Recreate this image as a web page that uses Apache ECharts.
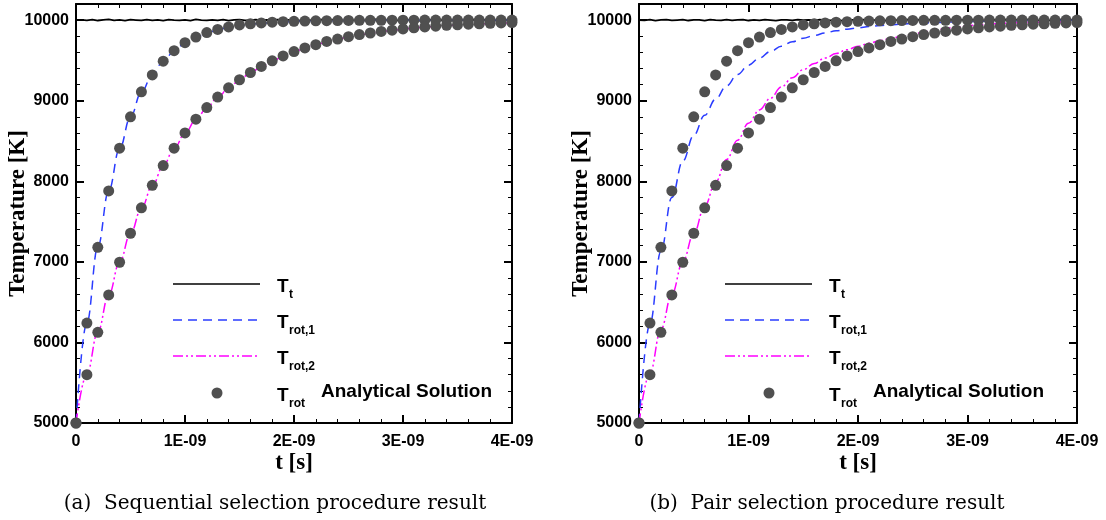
<!DOCTYPE html>
<html><head><meta charset="utf-8">
<script src="https://cdn.jsdelivr.net/npm/echarts@6/dist/echarts.min.js"></script>
<style>html,body{margin:0;padding:0;background:#fff}#c{width:1106px;height:520px}</style>
</head><body><div id="c"></div>
<script>
// time in units of 1e-10 s
const timeSteps = [0,1,2,3,4,5,6,7,8,9,10,11,12,13,14,15,16,17,18,19,20,21,22,23,24,25,26,27,28,29,30,31,32,33,34,35,36,37,38,39,40];
const fineTimes = [0,0.5,1,1.5,2,2.5,3,3.5,4,4.5,5,5.5,6,6.5,7,7.5,8,8.5,9,9.5,10,10.5,11,11.5,12,12.5,13,13.5,14,14.5,15,15.5,16,16.5,17,17.5,18,18.5,19,19.5,20,20.5,21,21.5,22,22.5,23,23.5,24,24.5,25,25.5,26,26.5,27,27.5,28,28.5,29,29.5,30,30.5,31,31.5,32,32.5,33,33.5,34,34.5,35,35.5,36,36.5,37,37.5,38,38.5,39,39.5,40];
const xTickLabels = ['0','1E-09','2E-09','3E-09','4E-09'];
const yTickLabels = ['5000','6000','7000','8000','9000','10000'];

// translational temperature T_t (fluctuates around 10000)
const ttA = [10000,10004,9996,10006,9995,10003,10008,9997,10002,
 9993,10005,10001,9996,10007,9998,10003,9994,10006,
 10000,9997,10004,9995,10008,10001,9996,10003,9998,
 10006,9993,10002,10005,9997,10001,10007,9995,10003,
 9999,10006,9996,10002,10004,9994,10005,10000,9997,
 10007,9996,10003,10001,9995,10006,9998,10004,9997,
 10002,10008,9995,10001,10005,9996,10003,9999,10006,
 9994,10002,10004,9997,10001,10006,9995,10003,10000,
 9996,10005,9998,10002,10006,9997,10001,10004,9999];
const ttB = [10000,9997,10005,9994,10003,10007,9996,10001,10006,
 9995,10002,10004,9993,10006,10000,9997,10005,9998,
 10003,10007,9995,10002,9998,10006,10001,9994,10004,
 10002,9996,10007,9999,10003,9995,10005,10001,9997,
 10006,9994,10002,10004,9998,10007,9996,10001,10005,
 9995,10003,10000,9997,10006,9999,10004,9994,10002,
 10005,9997,10001,10007,9996,10003,9998,10005,10000,
 9995,10004,10002,9997,10006,9999,10003,9996,10005,
 10001,9998,10004,9996,10002,10006,9999,10003,10000];

// analytical solution dots (same in both panels)
const anaFast = [5000,6240,7180,7880,8410,8800,9110,9320,9490,9620,9720,9790,9845,9885,9915,9940,9955,9965,9975,9980,9985,9988,9991,9993,9995,9996,9997,9998,9998,9999,9999,9999,10000,10000,10000,10000,10000,10000,10000,10000,10000];
const anaSlow = [5000,5600,6125,6590,6995,7355,7670,7950,8195,8410,8600,8770,8915,9045,9160,9260,9350,9425,9495,9555,9610,9655,9695,9735,9765,9795,9820,9840,9860,9875,9890,9905,9915,9925,9935,9942,9950,9955,9960,9965,9970];

// (a) sequential selection
const rot1A = [5000,6245,7185,7880,8405,8800,9105,9320,9490,9615,9715,9785,9840,9880,9910,9932,9948,9960,9970,9977,9983,9987,9990,9992,9994,9995,9996,9997,9998,9998,9999,9999,9999,10000,10000,10000,10000,10000,10000,10000,10000];
const rot2A = [5000,5605,6130,6590,6995,7350,7665,7945,8190,8405,8595,8765,8910,9040,9155,9255,9345,9420,9490,9550,9605,9650,9692,9730,9762,9790,9815,9837,9856,9873,9888,9902,9913,9923,9932,9940,9947,9953,9958,9963,9967];
// (b) pair selection
const rot1B = [5000,6230,7130,7800,8250,8570,8820,9020,9185,9325,9440,9530,9610,9675,9730,9775,9810,9840,9868,9888,9905,9920,9933,9943,9951,9958,9964,9969,9974,9978,9982,9985,9988,9990,9992,9994,9995,9996,9997,9998,9998];
const rot2B = [5000,5620,6160,6600,7000,7350,7690,7990,8270,8510,8720,8885,9030,9170,9285,9385,9462,9530,9585,9632,9675,9712,9745,9774,9800,9825,9850,9875,9896,9915,9930,9941,9950,9958,9964,9969,9972,9975,9977,9979,9980];

const captions = ['(a)  Sequential selection procedure result', '(b)  Pair selection procedure result'];

const BLUE = '#2a3cff', MAG = '#ff00ff', DOT = '#505050';
const DASH1 = [9, 6];
const DASH2 = [10, 3, 2, 3, 2, 3];
const sansB = 'Liberation Sans, Arial, sans-serif';
const serif = 'Liberation Serif, Times New Roman, serif';

const pairs = (xs, ys) => xs.map((x, i) => [x, ys[i]]);

const panels = [
  {left: 76, width: 436, tt: ttA, r1: rot1A, r2: rot2A, legX: 0, capX: 275},
  {left: 639, width: 438, tt: ttB, r1: rot1B, r2: rot2B, legX: 552, capX: 827}
];

const grids = [], xAxes = [], yAxes = [], series = [], graphics = [];
panels.forEach((p, k) => {
  grids.push({left: p.left, top: 4, width: p.width, height: 419});
  const xBase = {
    type: 'value', gridIndex: k, min: 0, max: 40, interval: 10,
    axisLine: {lineStyle: {color: '#000', width: 2}},
    axisTick: {inside: true, length: 8, lineStyle: {color: '#000', width: 2}},
    minorTick: {show: true, splitNumber: 5, length: 4, lineStyle: {color: '#000', width: 1}},
    splitLine: {show: false}
  };
  xAxes.push(Object.assign({}, xBase, {
    position: 'bottom',
    axisLabel: {margin: 11, color: '#000', fontSize: 16, fontWeight: 'bold', fontFamily: sansB,
      formatter: v => xTickLabels[v / 10] || ''},
    name: 't [s]', nameLocation: 'middle', nameGap: 29, nameMoveOverlap: false,
    nameTextStyle: {fontFamily: serif, fontWeight: 'bold', fontSize: 23, color: '#000'}
  }));
  xAxes.push(Object.assign({}, xBase, {position: 'top', axisLabel: {show: false}}));
  const yMajor = {
    type: 'value', gridIndex: k, min: 5000, max: 10200, interval: 1000,
    axisLine: {show: true, lineStyle: {color: '#000', width: 2}},
    axisTick: {show: true, inside: true, length: 8, lineStyle: {color: '#000', width: 2}},
    splitLine: {show: false}
  };
  const yMinor = {
    type: 'value', gridIndex: k, min: 5000, max: 10200, interval: 200,
    axisLine: {show: false},
    axisTick: {show: true, inside: true, length: 4, lineStyle: {color: '#000', width: 1}},
    axisLabel: {show: false}, splitLine: {show: false}
  };
  yAxes.push(Object.assign({}, yMajor, {
    position: 'left',
    axisLabel: {margin: 7, color: '#000', fontSize: 16, fontWeight: 'bold', fontFamily: sansB,
      formatter: v => yTickLabels.includes(String(v)) ? String(v) : ''},
    name: 'Temperature [K]', nameLocation: 'middle', nameGap: 46, nameMoveOverlap: false,
    nameTextStyle: {fontFamily: serif, fontWeight: 'bold', fontSize: 23, color: '#000'}
  }));
  yAxes.push(Object.assign({}, yMinor, {position: 'left'}));
  yAxes.push(Object.assign({}, yMajor, {position: 'right', axisLabel: {show: false}}));
  yAxes.push(Object.assign({}, yMinor, {position: 'right'}));

  const xi = 2 * k, yi = 4 * k;
  series.push({type: 'line', xAxisIndex: xi, yAxisIndex: yi, data: pairs(fineTimes, p.tt),
    symbol: 'none', lineStyle: {color: '#000', width: 1.8}, z: 2, silent: true});
  series.push({type: 'line', xAxisIndex: xi, yAxisIndex: yi, data: pairs(timeSteps, p.r1),
    symbol: 'none', smooth: 0.4, smoothMonotone: 'x', lineStyle: {color: BLUE, width: 1.5, type: DASH1}, z: 3, silent: true});
  series.push({type: 'line', xAxisIndex: xi, yAxisIndex: yi, data: pairs(timeSteps, p.r2),
    symbol: 'none', smooth: 0.4, smoothMonotone: 'x', lineStyle: {color: MAG, width: 1.5, type: DASH2}, z: 3, silent: true});
  [anaFast, anaSlow].forEach(d => series.push({type: 'scatter', xAxisIndex: xi, yAxisIndex: yi,
    data: pairs(timeSteps, d), symbol: 'circle', symbolSize: 11, itemStyle: {color: DOT, opacity: 1}, z: 5, silent: true}));

  // legend
  const ox = p.legX;
  const rows = [
    {y: 284, sub: 't', stroke: '#000', dash: null},
    {y: 320, sub: 'rot,1', stroke: BLUE, dash: DASH1},
    {y: 356, sub: 'rot,2', stroke: MAG, dash: DASH2},
    {y: 393, sub: 'rot', dot: true}
  ];
  rows.forEach(r => {
    if (r.dot) {
      graphics.push({type: 'circle', shape: {cx: 217 + ox, cy: r.y, r: 5.5}, style: {fill: DOT}});
    } else {
      graphics.push({type: 'line', shape: {x1: 173 + ox, y1: r.y, x2: 260 + ox, y2: r.y},
        style: {stroke: r.stroke, lineWidth: 1.6, lineDash: r.dash}});
    }
    graphics.push({type: 'text', x: 277 + ox, y: r.y + 3, style: {text: 'T', fontSize: 19, fontWeight: 'bold',
      fontFamily: sansB, fill: '#000', verticalAlign: 'middle'}});
    graphics.push({type: 'text', x: 289 + ox, y: r.y + 11, style: {text: r.sub, fontSize: 12, fontWeight: 'bold',
      fontFamily: sansB, fill: '#000', verticalAlign: 'middle'}});
  });
  graphics.push({type: 'text', x: 321 + ox, y: 392, style: {text: 'Analytical Solution', fontSize: 19,
    fontWeight: 'bold', fontFamily: sansB, fill: '#000', verticalAlign: 'middle'}});
  graphics.push({type: 'text', x: p.capX, y: 504, style: {text: captions[k], fontSize: 20,
    fontFamily: 'DejaVu Serif, serif', fill: '#000', align: 'center', verticalAlign: 'middle'}});
});

const chart = echarts.init(document.getElementById('c'), null, {renderer: 'canvas'});
chart.setOption({
  animation: false,
  backgroundColor: '#fff',
  grid: grids, xAxis: xAxes, yAxis: yAxes, series: series, graphic: graphics
});
</script></body></html>
